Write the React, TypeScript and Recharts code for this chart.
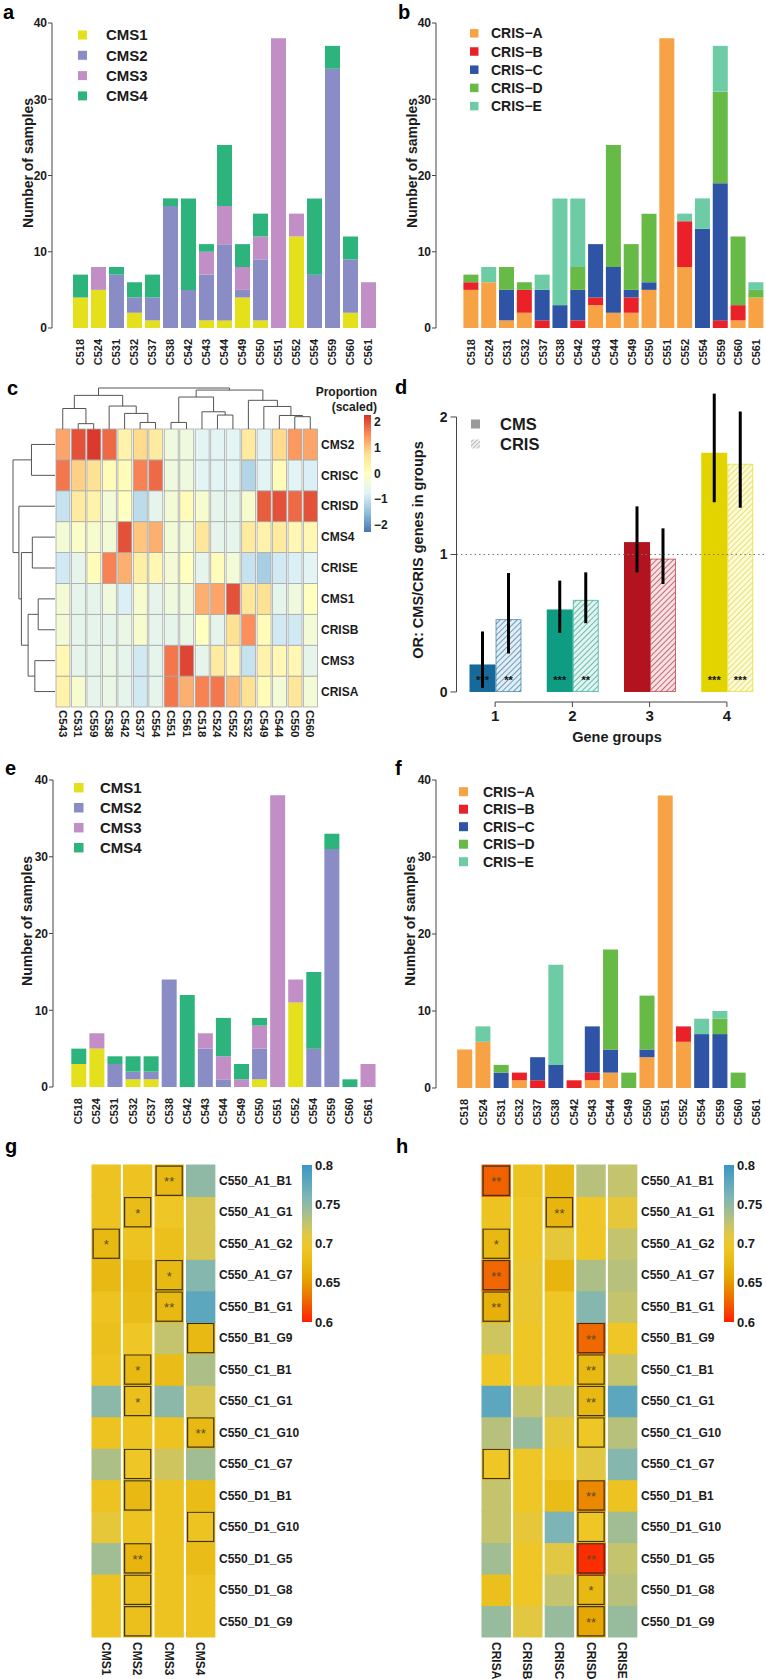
import React from 'react';
import { BarChart, Bar, XAxis, YAxis, ScatterChart, Scatter, ReferenceLine, ErrorBar } from 'recharts';

const FONT = '"Liberation Sans", Arial, Helvetica, sans-serif';
const INK = '#1b1b1b';
const AXIS = '#444';

// ---------- a/b/e/f: samples per cell line ----------
const cellLines = ['C518', 'C524', 'C531', 'C532', 'C537', 'C538', 'C542', 'C543', 'C544', 'C549', 'C550', 'C551', 'C552', 'C554', 'C559', 'C560', 'C561'];
const countTicks = [0, 10, 20, 30, 40];

const cmsNames = ['CMS1', 'CMS2', 'CMS3', 'CMS4'];
const cmsColors = ['#E4E01C', '#8A8CC5', '#C28EC6', '#2DB47C'];
const crisNames = ['CRIS\u2212A', 'CRIS\u2212B', 'CRIS\u2212C', 'CRIS\u2212D', 'CRIS\u2212E'];
const crisColors = ['#F7A345', '#EA2128', '#2F53A5', '#67BA46', '#6DCBA5'];

// a: CMS, all samples
const aCMS1 = [4, 5, 0, 2, 1, 0, 0, 1, 1, 4, 1, 0, 12, 0, 0, 2, 0];
const aCMS2 = [0, 0, 7, 2, 3, 16, 5, 6, 10, 1, 8, 0, 0, 7, 34, 7, 0];
const aCMS3 = [0, 3, 0, 0, 0, 0, 0, 3, 5, 3, 3, 38, 3, 0, 0, 0, 6];
const aCMS4 = [3, 0, 1, 2, 3, 1, 12, 1, 8, 3, 3, 0, 0, 10, 3, 3, 0];

// b: CRIS, all samples
const bCRISA = [5, 6, 1, 2, 0, 0, 0, 3, 2, 2, 5, 38, 8, 0, 0, 1, 4];
const bCRISB = [1, 0, 0, 3, 1, 0, 1, 1, 0, 2, 0, 0, 6, 0, 1, 2, 0];
const bCRISC = [0, 0, 4, 0, 4, 3, 4, 7, 6, 1, 1, 0, 0, 13, 18, 0, 0];
const bCRISD = [1, 0, 3, 1, 0, 0, 3, 0, 16, 6, 9, 0, 0, 0, 12, 9, 1];
const bCRISE = [0, 2, 0, 0, 2, 14, 9, 0, 0, 0, 0, 0, 1, 4, 6, 0, 1];

// e: CMS, confident calls
const eCMS1 = [3, 5, 0, 1, 1, 0, 0, 0, 0, 0, 1, 0, 11, 0, 0, 0, 0];
const eCMS2 = [0, 0, 3, 1, 1, 14, 0, 5, 1, 0, 4, 0, 0, 5, 31, 0, 0];
const eCMS3 = [0, 2, 0, 0, 0, 0, 0, 2, 3, 1, 3, 38, 3, 0, 0, 0, 3];
const eCMS4 = [2, 0, 1, 2, 2, 0, 12, 0, 5, 2, 1, 0, 0, 10, 2, 1, 0];

// f: CRIS, confident calls
const fCRISA = [5, 6, 0, 1, 0, 0, 0, 1, 2, 0, 4, 38, 6, 0, 0, 0, 0];
const fCRISB = [0, 0, 0, 1, 1, 0, 1, 1, 0, 0, 0, 0, 2, 0, 0, 0, 0];
const fCRISC = [0, 0, 2, 0, 3, 3, 0, 6, 3, 0, 1, 0, 0, 7, 7, 0, 0];
const fCRISD = [0, 0, 1, 0, 0, 0, 0, 0, 13, 2, 7, 0, 0, 0, 2, 2, 0];
const fCRISE = [0, 2, 0, 0, 0, 13, 0, 0, 0, 0, 0, 0, 0, 2, 1, 0, 0];

// ---------- c: scaled proportions ----------
const cCols = ['C543', 'C531', 'C559', 'C538', 'C542', 'C537', 'C554', 'C551', 'C561', 'C518', 'C524', 'C552', 'C532', 'C549', 'C544', 'C550', 'C560'];
const cRows = ['CMS2', 'CRISC', 'CRISD', 'CMS4', 'CRISE', 'CMS1', 'CRISB', 'CMS3', 'CRISA'];
const cValues = [
  [1.3, 2.0, 2.2, 1.8, 0.3, 0.8, 0.5, -0.4, -0.4, -0.7, -0.7, -0.7, 0.5, -0.7, 0.8, 1.4, 1.3],
  [1.7, 0.9, 0.7, 0.1, 0.1, 1.6, 1.8, -0.4, -0.4, -0.7, -0.7, -0.7, -1.2, -0.7, 0.1, -0.7, -0.8],
  [-1.0, 0.5, 0.3, -0.3, 0.0, -1.1, -0.6, -0.3, 0.1, -0.2, -0.6, -0.6, -0.2, 1.9, 2.0, 1.8, 2.0],
  [-0.3, -0.1, -0.2, -0.3, 2.0, 1.0, 1.2, -0.3, -0.3, 0.6, -0.6, -0.6, 0.5, 0.3, 0.5, 0.2, 0.2],
  [-0.9, -0.6, 0.1, 1.6, 1.2, 0.4, 0.2, -0.3, 0.0, -0.6, 0.1, -0.3, -1.0, -1.3, -0.9, -0.8, -0.7],
  [-0.3, -0.6, -0.6, -0.4, -0.8, -0.2, -0.6, -0.4, -0.4, 1.2, 1.3, 2.0, 0.6, 0.7, -0.6, -0.4, 0.0],
  [-0.3, -0.6, -0.6, -0.6, -0.5, -0.2, -0.6, -0.6, -0.5, 0.0, -0.6, 0.7, 1.5, 0.1, -0.9, -0.9, -0.3],
  [0.2, -0.6, -0.6, -0.5, -0.6, -0.9, -0.6, 1.7, 2.1, -0.6, 0.5, 0.2, -1.0, 0.3, 0.2, 0.2, -0.6],
  [0.3, -0.2, -0.6, -0.5, -0.6, -0.9, -0.6, 1.7, 1.2, 1.6, 1.7, 1.1, 0.7, 0.1, -0.3, 0.6, -0.3],
];
// hclust style merges: negative = leaf (1-based), positive = earlier merge; third = height
const cColMerges: [number, number, number][] = [
  [-2, -3, 0.13], [-6, -7, 0.16], [-5, 2, 0.38], [-4, 3, 0.56], [-1, 1, 0.5], [5, 4, 0.82],
  [-8, -9, 0.16], [-11, -12, 0.34], [-10, 8, 0.42], [7, 9, 0.78],
  [-16, -17, 0.3], [-15, 11, 0.33], [-14, 12, 0.55], [-13, 13, 0.7], [10, 14, 0.95], [6, 15, 1.0],
];
const cRowMerges: [number, number, number][] = [
  [-1, -2, 0.56], [-4, -5, 0.54], [-6, -7, 0.4], [-8, -9, 0.48], [3, 4, 0.64], [2, 5, 0.8], [-3, 6, 0.86], [1, 7, 1.0],
];
const cLegendTicks = [2, 1, 0, -1, -2];

// ---------- d: odds ratios ----------
const geneGroups = [1, 2, 3, 4];
const orCMS = [0.2, 0.6, 1.09, 1.74];
const orCRIS = [0.53, 0.67, 0.97, 1.66];
const ciCMSLow = [0.03, 0.43, 0.87, 1.38];
const ciCMSHigh = [0.44, 0.81, 1.35, 2.17];
const ciCRISLow = [0.28, 0.5, 0.785, 1.34];
const ciCRISHigh = [0.865, 0.87, 1.19, 2.04];
const starsCMS = ['***', '***', '', '***'];
const starsCRIS = ['**', '**', '', '***'];
const groupColors = ['#166A9B', '#0E9C83', '#B3121F', '#E3D400'];

// ---------- g/h: C550 sub-clones ----------
const subclones = ['C550_A1_B1', 'C550_A1_G1', 'C550_A1_G2', 'C550_A1_G7', 'C550_B1_G1', 'C550_B1_G9', 'C550_C1_B1', 'C550_C1_G1', 'C550_C1_G10', 'C550_C1_G7', 'C550_D1_B1', 'C550_D1_G10', 'C550_D1_G5', 'C550_D1_G8', 'C550_D1_G9'];
const gCols = ['CMS1', 'CMS2', 'CMS3', 'CMS4'];
const gValues = [
  [0.69, 0.69, 0.675, 0.75],
  [0.69, 0.68, 0.695, 0.715],
  [0.675, 0.69, 0.685, 0.715],
  [0.675, 0.675, 0.675, 0.755],
  [0.69, 0.68, 0.675, 0.78],
  [0.685, 0.695, 0.725, 0.675],
  [0.69, 0.675, 0.68, 0.735],
  [0.752, 0.685, 0.752, 0.715],
  [0.69, 0.69, 0.69, 0.675],
  [0.735, 0.695, 0.72, 0.74],
  [0.69, 0.675, 0.69, 0.68],
  [0.705, 0.69, 0.69, 0.69],
  [0.74, 0.67, 0.69, 0.68],
  [0.69, 0.685, 0.69, 0.69],
  [0.69, 0.685, 0.69, 0.69],
];
const gSig = [
  ['', '', '**', ''], ['', '*', '', ''], ['*', '', '', ''], ['', '', '*', ''], ['', '', '**', ''],
  ['', '', '', '-'], ['', '*', '', ''], ['', '*', '', ''], ['', '', '', '**'], ['', '-', '', ''],
  ['', '-', '', ''], ['', '', '', '-'], ['', '**', '', ''], ['', '-', '', ''], ['', '-', '', ''],
];
const hCols = ['CRISA', 'CRISB', 'CRISC', 'CRISD', 'CRISE'];
const hValues = [
  [0.625, 0.69, 0.675, 0.73, 0.725],
  [0.69, 0.695, 0.67, 0.695, 0.705],
  [0.675, 0.695, 0.705, 0.695, 0.725],
  [0.627, 0.7, 0.67, 0.735, 0.73],
  [0.665, 0.7, 0.695, 0.755, 0.725],
  [0.72, 0.695, 0.695, 0.628, 0.695],
  [0.695, 0.695, 0.695, 0.675, 0.725],
  [0.78, 0.725, 0.725, 0.675, 0.78],
  [0.73, 0.745, 0.705, 0.695, 0.73],
  [0.695, 0.695, 0.695, 0.71, 0.755],
  [0.725, 0.695, 0.68, 0.642, 0.69],
  [0.725, 0.705, 0.76, 0.695, 0.74],
  [0.74, 0.695, 0.71, 0.605, 0.725],
  [0.685, 0.695, 0.725, 0.675, 0.73],
  [0.745, 0.71, 0.745, 0.658, 0.745],
];
const hSig = [
  ['**', '', '', '', ''], ['', '', '**', '', ''], ['*', '', '', '', ''], ['**', '', '', '', ''], ['**', '', '', '', ''],
  ['', '', '', '**', ''], ['', '', '', '**', ''], ['', '', '', '**', ''], ['', '', '', '-', ''], ['-', '', '', '', ''],
  ['', '', '', '**', ''], ['', '', '', '-', ''], ['', '', '', '**', ''], ['', '', '', '*', ''], ['', '', '', '**', ''],
];
const ghLegendTicks = [0.8, 0.75, 0.7, 0.65, 0.6];

// ---------- colour scales ----------
const cStops: [number, string][] = ['#4575B4', '#91BFDB', '#E0F3F8', '#FFFFBF', '#FEE090', '#FC8D59', '#D73027']
  .map((c, k) => [-2.27 + (k * 4.54) / 6, c]);
const ghStops: [number, string][] = [
  [0.6, '#FF2000'], [0.63, '#EE6E00'], [0.655, '#E6A400'], [0.675, '#E8B912'], [0.695, '#EEC626'],
  [0.71, '#E2C842'], [0.725, '#C4C36E'], [0.74, '#A0BD94'], [0.76, '#7DB5B6'], [0.8, '#3A97C6'],
];

function hexRgb(h: string) {
  const n = parseInt(h.slice(1), 16);
  return [(n >> 16) & 255, (n >> 8) & 255, n & 255];
}
function ramp(stops: [number, string][], v: number) {
  if (v <= stops[0][0]) return stops[0][1];
  for (let k = 1; k < stops.length; k++) {
    if (v <= stops[k][0]) {
      const t = (v - stops[k - 1][0]) / (stops[k][0] - stops[k - 1][0]);
      const a = hexRgb(stops[k - 1][1]);
      const b = hexRgb(stops[k][1]);
      return `rgb(${a.map((x, i) => Math.round(x + (b[i] - x) * t)).join(',')})`;
    }
  }
  return stops[stops.length - 1][1];
}

function VTick({ x, y, payload, gap, angle, size }: any) {
  const ty = y + gap;
  return (
    <text x={x} y={ty} transform={`rotate(${angle}, ${x}, ${ty})`} textAnchor={angle < 0 ? 'end' : 'start'}
      dominantBaseline="central" fontSize={size} fontWeight="bold" fill={INK}>
      {payload.value}
    </text>
  );
}

function CountsPanel({ left, top, height, plotTop, plotBottom, axisX, bandStart, bandEnd, series, colors }: any) {
  const width = 383;
  const rows = cellLines.map((c, i) => {
    const o: any = { name: c };
    series.forEach((s: number[], k: number) => { o['s' + k] = s[i]; });
    return o;
  });
  return (
    <div style={{ position: 'absolute', left, top }}>
      <BarChart width={width} height={height} data={rows}
        margin={{ top: plotTop - top, right: left + width - bandEnd, bottom: 2, left: 0 }}>
        <XAxis dataKey="name" type="category" interval={0} axisLine={false} tickLine={false} tickSize={0} tickMargin={0}
          height={top + height - plotBottom - 2} padding={{ left: bandStart - axisX, right: 0 }}
          tick={(p: any) => <VTick {...p} gap={11} angle={-90} size={11} />} />
        <YAxis type="number" domain={[0, 40]} ticks={countTicks} interval={0} width={axisX - left}
          axisLine={{ stroke: AXIS }} tickLine={{ stroke: AXIS }} tickSize={4} tickMargin={1}
          tick={{ fontSize: 12, fontWeight: 'bold', fill: INK }} />
        {series.map((_: number[], k: number) => (
          <Bar key={k} dataKey={'s' + k} stackId="a" fill={colors[k]} barSize={15} isAnimationActive={false} />
        ))}
      </BarChart>
    </div>
  );
}

function HeatPanel({ left, top, width, height, x0, x1, y0, y1, cols, rows, values, colorOf, grid, rowW, rowFont, colFont, colGap, sig }: any) {
  const n = rows.length;
  const band = (x1 - x0) / cols.length;
  const data = cols.map((c: string, j: number) => {
    const o: any = { name: c, ci: j };
    rows.forEach((_: string, i: number) => { o['r' + i] = 1; });
    return o;
  });
  const order = rows.map((_: string, i: number) => n - 1 - i);
  const cell = (p: any, i: number) => {
    const j = p.payload.ci;
    const fill = colorOf(values[i][j]);
    const s = sig ? sig[i][j] : '';
    const pad = grid ? 0 : 0.5;
    return (
      <g>
        <rect x={p.x - pad} y={p.y - pad} width={p.width + 2 * pad} height={p.height + 2 * pad} fill={fill}
          stroke={grid || 'none'} strokeWidth={grid ? 0.8 : 0} />
        {s && <rect x={p.x + 1.1} y={p.y + 1.1} width={p.width - 2.2} height={p.height - 2.2} fill="none" stroke="#3a3220" strokeWidth={1.2} />}
        {s && s !== '-' && (
          <text x={p.x + p.width / 2} y={p.y + p.height / 2 + 5.5} textAnchor="middle" fontSize={13} fill="#5a4a1e">{s}</text>
        )}
      </g>
    );
  };
  return (
    <div style={{ position: 'absolute', left, top }}>
      <BarChart width={width} height={height} data={data} barCategoryGap={0} barGap={0}
        margin={{ top: y0 - top, left: x0 - left, right: left + width - x1 - rowW, bottom: 2 }}>
        <XAxis dataKey="name" type="category" interval={0} axisLine={false} tickLine={false} tickSize={0} tickMargin={0}
          height={top + height - y1 - 2} tick={(p: any) => <VTick {...p} gap={colGap} angle={90} size={colFont} />} />
        <YAxis orientation="right" type="number" domain={[0, n]} ticks={order.map((i: number) => n - i - 0.5)} interval={0}
          width={rowW} axisLine={false} tickLine={false} tickSize={0} tickMargin={3}
          tickFormatter={(v: number) => rows[Math.round(n - 0.5 - v)]}
          tick={{ fontSize: rowFont, fontWeight: 'bold', fill: INK }} />
        {order.map((i: number) => (
          <Bar key={i} dataKey={'r' + i} stackId="h" barSize={band} isAnimationActive={false} shape={(p: any) => cell(p, i)} />
        ))}
      </BarChart>
    </div>
  );
}

function dendroPaths(merges: [number, number, number][], leafPos: (i: number) => number, flip: boolean) {
  const pos: number[] = [];
  const hts: number[] = [];
  return merges.map(([a, b, h], k) => {
    const pa = a < 0 ? leafPos(-a) : pos[a - 1];
    const ha = a < 0 ? 0 : hts[a - 1];
    const pb = b < 0 ? leafPos(-b) : pos[b - 1];
    const hb = b < 0 ? 0 : hts[b - 1];
    pos[k] = (pa + pb) / 2;
    hts[k] = h;
    return [[pa, ha], [pa, h], [pb, h], [pb, hb]].map(([p, v]) => (flip ? { x: v, y: p } : { x: p, y: v }));
  });
}
const noDot = () => <g />;

function ORPanel() {
  const data = geneGroups.map((g, i) => ({
    g,
    cms: orCMS[i],
    cris: orCRIS[i],
    cmsErr: [orCMS[i] - ciCMSLow[i], ciCMSHigh[i] - orCMS[i]],
    crisErr: [orCRIS[i] - ciCRISLow[i], ciCRISHigh[i] - orCRIS[i]],
  }));
  const star = (p: any, txt: string) => txt ? (
    <text x={p.x + p.width / 2} y={p.y + p.height - 8} textAnchor="middle" fontSize={11} fontWeight="bold" fill="#111">{txt}</text>
  ) : null;
  const cmsShape = (p: any) => {
    const i = p.payload.g - 1;
    return (
      <g>
        <rect x={p.x} y={p.y} width={p.width} height={p.height} fill={groupColors[i]} />
        {star(p, starsCMS[i])}
      </g>
    );
  };
  const crisShape = (p: any) => {
    const i = p.payload.g - 1;
    return (
      <g>
        <rect x={p.x + 0.5} y={p.y + 0.5} width={p.width - 1} height={p.height - 1} fill={`url(#hatch${i})`}
          stroke={groupColors[i]} strokeOpacity={0.6} strokeWidth={1} />
        {star(p, starsCRIS[i])}
      </g>
    );
  };
  return (
    <div style={{ position: 'absolute', left: 383, top: 380 }}>
      <BarChart width={383} height={380} data={data} barGap={0} margin={{ top: 9.5, right: 0.5, left: 33.5, bottom: 8 }}>
        <defs>
          {groupColors.map((c, i) => (
            <pattern key={i} id={`hatch${i}`} patternUnits="userSpaceOnUse" width={4} height={4} patternTransform="rotate(45)">
              <rect width={4} height={4} fill={c} fillOpacity={0.12} />
              <line x1={0} y1={0} x2={0} y2={4} stroke={c} strokeWidth={1.6} strokeOpacity={0.75} />
            </pattern>
          ))}
        </defs>
        <XAxis type="number" dataKey="g" domain={[0.5, 4.5]} ticks={geneGroups} allowDataOverflow interval={0}
          axisLine={false} tickLine={{ stroke: AXIS }} tickSize={5} tickMargin={3} height={50}
          tick={{ fontSize: 15, fontWeight: 'bold', fill: INK }} />
        <YAxis type="number" domain={[-0.073, 2.2]} ticks={[0, 1, 2]} allowDataOverflow interval={0} width={40}
          axisLine={false} tickLine={{ stroke: AXIS }} tickSize={6} tickMargin={3}
          tick={{ fontSize: 14, fontWeight: 'bold', fill: INK }} />
        <ReferenceLine y={1} stroke="#777" strokeDasharray="1.5 3" />
        <ReferenceLine segment={[{ x: 0.5, y: 0 }, { x: 0.5, y: 2 }]} stroke={AXIS} ifOverflow="visible" />
        <ReferenceLine segment={[{ x: 1, y: -0.073 }, { x: 4, y: -0.073 }]} stroke={AXIS} ifOverflow="visible" />
        <Bar dataKey="cms" barSize={26} shape={cmsShape} isAnimationActive={false}>
          <ErrorBar dataKey="cmsErr" width={0} strokeWidth={3} stroke="#000" direction="y" />
        </Bar>
        <Bar dataKey="cris" barSize={26} shape={crisShape} isAnimationActive={false}>
          <ErrorBar dataKey="crisErr" width={0} strokeWidth={3} stroke="#000" direction="y" />
        </Bar>
      </BarChart>
    </div>
  );
}

function SquareLegend({ x, y0, dy, sq, tx, size, names, colors }: any) {
  return (
    <g>
      {names.map((nm: string, i: number) => (
        <g key={nm}>
          <rect x={x} y={y0 + i * dy - sq / 2} width={sq} height={sq} fill={colors[i]} />
          <text x={tx} y={y0 + i * dy + size * 0.36} fontSize={size} fontWeight="bold" fill={INK}>{nm}</text>
        </g>
      ))}
    </g>
  );
}

function VTitle({ x, y, text, size }: any) {
  return (
    <text x={x} y={y} transform={`rotate(-90, ${x}, ${y})`} textAnchor="middle" dominantBaseline="central"
      fontSize={size} fontWeight="bold" fill={INK}>{text}</text>
  );
}

function ColorBar({ x, top, bottom, w, id, ticks, toFrac, fmt, size }: any) {
  return (
    <g>
      <rect x={x} y={top} width={w} height={bottom - top} fill={`url(#${id})`} />
      {ticks.map((t: number) => (
        <text key={t} x={x + w + 3} y={bottom - toFrac(t) * (bottom - top)} dominantBaseline="central"
          fontSize={size} fontWeight="bold" fill={INK}>{fmt(t)}</text>
      ))}
    </g>
  );
}

export default function App() {
  const topPaths = dendroPaths(cColMerges, (i) => i - 0.5, false);
  const leftPaths = dendroPaths(cRowMerges, (i) => i - 0.5, true);
  const cFrac = (v: number) => (v + 2.27) / 4.54;
  const ghFrac = (v: number) => (v - 0.6) / 0.2;
  const letter = (t: string, x: number, y: number) => (
    <text x={x} y={y} fontSize={20} fontWeight="bold" fill="#000">{t}</text>
  );
  return (
    <div style={{ position: 'absolute', left: 0, top: 0, width: 766, height: 1679, background: '#fff', fontFamily: FONT, overflow: 'hidden' }}>
      <CountsPanel left={0} top={0} height={395} plotTop={23} plotBottom={328} axisX={52} bandStart={71} bandEnd={377}
        series={[aCMS1, aCMS2, aCMS3, aCMS4]} colors={cmsColors} />
      <CountsPanel left={383} top={0} height={395} plotTop={23} plotBottom={328} axisX={436} bandStart={462.4} bandEnd={765.2}
        series={[bCRISA, bCRISB, bCRISC, bCRISD, bCRISE]} colors={crisColors} />
      <CountsPanel left={0} top={770} height={370} plotTop={780} plotBottom={1087} axisX={53} bandStart={69.3} bandEnd={376.6}
        series={[eCMS1, eCMS2, eCMS3, eCMS4]} colors={cmsColors} />
      <CountsPanel left={383} top={770} height={370} plotTop={780} plotBottom={1088} axisX={436} bandStart={455.2} bandEnd={765.1}
        series={[fCRISA, fCRISB, fCRISC, fCRISD, fCRISE]} colors={crisColors} />

      <HeatPanel left={0} top={420} width={383} height={330} x0={55} x1={318} y0={429} y1={707}
        cols={cCols} rows={cRows} values={cValues} colorOf={(v: number) => ramp(cStops, v)} grid="#A8A8A8"
        rowW={60} rowFont={12} colFont={11.5} colGap={3} />
      <div style={{ position: 'absolute', left: 0, top: 380 }}>
        <ScatterChart width={383} height={50} margin={{ top: 8, right: 65, bottom: 1, left: 55 }}>
          <XAxis type="number" dataKey="x" domain={[0, 17]} hide />
          <YAxis type="number" dataKey="y" domain={[0, 1]} hide />
          {topPaths.map((d, k) => (
            <Scatter key={k} data={d} line={{ stroke: '#555', strokeWidth: 1 }} shape={noDot} isAnimationActive={false} />
          ))}
        </ScatterChart>
      </div>
      <div style={{ position: 'absolute', left: 0, top: 420 }}>
        <ScatterChart width={60} height={300} margin={{ top: 9, right: 5, bottom: 13, left: 13 }}>
          <XAxis type="number" dataKey="x" domain={[0, 1]} reversed hide />
          <YAxis type="number" dataKey="y" domain={[0, 9]} reversed hide />
          {leftPaths.map((d, k) => (
            <Scatter key={k} data={d} line={{ stroke: '#555', strokeWidth: 1 }} shape={noDot} isAnimationActive={false} />
          ))}
        </ScatterChart>
      </div>

      <ORPanel />

      <HeatPanel left={0} top={1150} width={383} height={529} x0={90} x1={216} y0={1165} y1={1637}
        cols={gCols} rows={subclones} values={gValues} colorOf={(v: number) => ramp(ghStops, v)} sig={gSig}
        rowW={80} rowFont={12} colFont={12} colGap={5} />
      <HeatPanel left={383} top={1150} width={383} height={529} x0={480} x1={638} y0={1165} y1={1637}
        cols={hCols} rows={subclones} values={hValues} colorOf={(v: number) => ramp(ghStops, v)} sig={hSig}
        rowW={100} rowFont={12} colFont={12} colGap={5} />

      <svg width={766} height={1679} style={{ position: 'absolute', left: 0, top: 0, pointerEvents: 'none' }}>
        <defs>
          <linearGradient id="cGrad" x1="0" y1="1" x2="0" y2="0">
            {cStops.map(([v, c]) => <stop key={v} offset={cFrac(v)} stopColor={c} />)}
          </linearGradient>
          <linearGradient id="ghGrad" x1="0" y1="1" x2="0" y2="0">
            {ghStops.map(([v, c]) => <stop key={v} offset={ghFrac(v)} stopColor={c} />)}
          </linearGradient>
          <pattern id="hatchLeg" patternUnits="userSpaceOnUse" width={3} height={3} patternTransform="rotate(45)">
            <rect width={3} height={3} fill="#eee" />
            <line x1={0} y1={0} x2={0} y2={3} stroke="#999" strokeWidth={1.2} />
          </pattern>
        </defs>
        {letter('a', 3, 18.5)}
        {letter('b', 398, 18.5)}
        {letter('c', 7, 395)}
        {letter('d', 395, 394)}
        {letter('e', 5, 775)}
        {letter('f', 395, 775)}
        {letter('g', 5, 1153)}
        {letter('h', 396, 1153)}

        <VTitle x={28} y={163} text="Number of samples" size={14} />
        <VTitle x={412} y={163} text="Number of samples" size={14} />
        <VTitle x={27} y={921} text="Number of samples" size={14} />
        <VTitle x={410} y={921} text="Number of samples" size={14} />
        <VTitle x={418} y={550} text="OR: CMS/CRIS genes in groups" size={14.5} />
        <text x={617} y={737} textAnchor="middle" dominantBaseline="central" fontSize={14.5} fontWeight="bold" fill={INK}>Gene groups</text>

        <SquareLegend x={78} y0={35} dy={20.3} sq={9} tx={106} size={15} names={cmsNames} colors={cmsColors} />
        <SquareLegend x={470} y0={33.3} dy={18.2} sq={8.5} tx={491} size={14} names={crisNames} colors={crisColors} />
        <SquareLegend x={74} y0={787.7} dy={20} sq={9.5} tx={100} size={15} names={cmsNames} colors={cmsColors} />
        <SquareLegend x={459} y0={791.7} dy={17.5} sq={9} tx={483} size={14} names={crisNames} colors={crisColors} />

        <rect x={471} y={419.5} width={9} height={9} fill="#9a9a9a" />
        <rect x={471} y={439.5} width={9} height={9} fill="url(#hatchLeg)" />
        <text x={500} y={430} fontSize={16.5} fontWeight="bold" fill={INK}>CMS</text>
        <text x={500} y={450} fontSize={16.5} fontWeight="bold" fill={INK}>CRIS</text>

        <text x={377} y={396} textAnchor="end" fontSize={12} fontWeight="bold" fill={INK}>Proportion</text>
        <text x={377} y={411} textAnchor="end" fontSize={12} fontWeight="bold" fill={INK}>(scaled)</text>
        <ColorBar x={364} top={415} bottom={532} w={7} id="cGrad" ticks={cLegendTicks} toFrac={cFrac}
          fmt={(t: number) => (t < 0 ? '\u2212' + Math.abs(t) : String(t))} size={12} />
        <ColorBar x={302} top={1165} bottom={1322} w={10} id="ghGrad" ticks={ghLegendTicks} toFrac={ghFrac}
          fmt={(t: number) => String(t)} size={13} />
        <ColorBar x={724} top={1165} bottom={1322} w={10} id="ghGrad" ticks={ghLegendTicks} toFrac={ghFrac}
          fmt={(t: number) => String(t)} size={13} />
      </svg>
    </div>
  );
}
